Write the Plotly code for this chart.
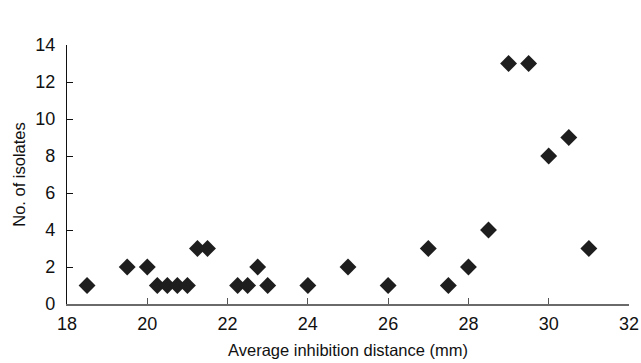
import plotly.graph_objects as go

inhibition_mm = [18.5, 19.5, 20, 20.25, 20.5, 20.75, 21, 21.25, 21.5, 22.25, 22.5, 22.75, 23,
                 24, 25, 26, 27, 27.5, 28, 28.5, 29, 29.5, 30, 30.5, 31]
isolates = [1, 2, 2, 1, 1, 1, 1, 3, 3, 1, 1, 2, 1,
            1, 2, 1, 3, 1, 2, 4, 13, 13, 8, 9, 3]
x_ticks = [18, 20, 22, 24, 26, 28, 30, 32]
y_ticks = [0, 2, 4, 6, 8, 10, 12, 14]

fig = go.Figure(go.Scatter(
    x=inhibition_mm, y=isolates, mode="markers",
    marker=dict(symbol="diamond", size=13, color="#1e1e1e"),
    cliponaxis=False,
))

font = "Liberation Sans, Arial, sans-serif"
fig.update_layout(
    width=641, height=363,
    margin=dict(l=67, r=12, t=45, b=59),
    plot_bgcolor="white", paper_bgcolor="white",
    showlegend=False,
    font=dict(family=font, color="#111", size=18),
)
fig.update_xaxes(
    range=[18, 32], tickvals=x_ticks, ticks="inside", ticklen=6, tickcolor="#555",
    showline=True, linecolor="#6a6a6a", linewidth=2, showgrid=False, zeroline=False,
    automargin=False, ticklabelstandoff=2,
    tickfont=dict(size=18), title=dict(text="Average inhibition distance (mm)", font=dict(size=16.5), standoff=12),
)
fig.update_yaxes(
    range=[0, 14], tickvals=y_ticks, ticks="inside", ticklen=6, tickcolor="#111",
    showline=True, linecolor="#111", linewidth=1.2, showgrid=False, zeroline=False,
    automargin=False, ticklabelstandoff=7,
    tickfont=dict(size=18), title=dict(text="No. of isolates", font=dict(size=16.5), standoff=5),
)
fig.write_html("out.html", config={"displayModeBar": False},
               post_script="document.body.style.margin='0';document.body.style.overflow='hidden';")
